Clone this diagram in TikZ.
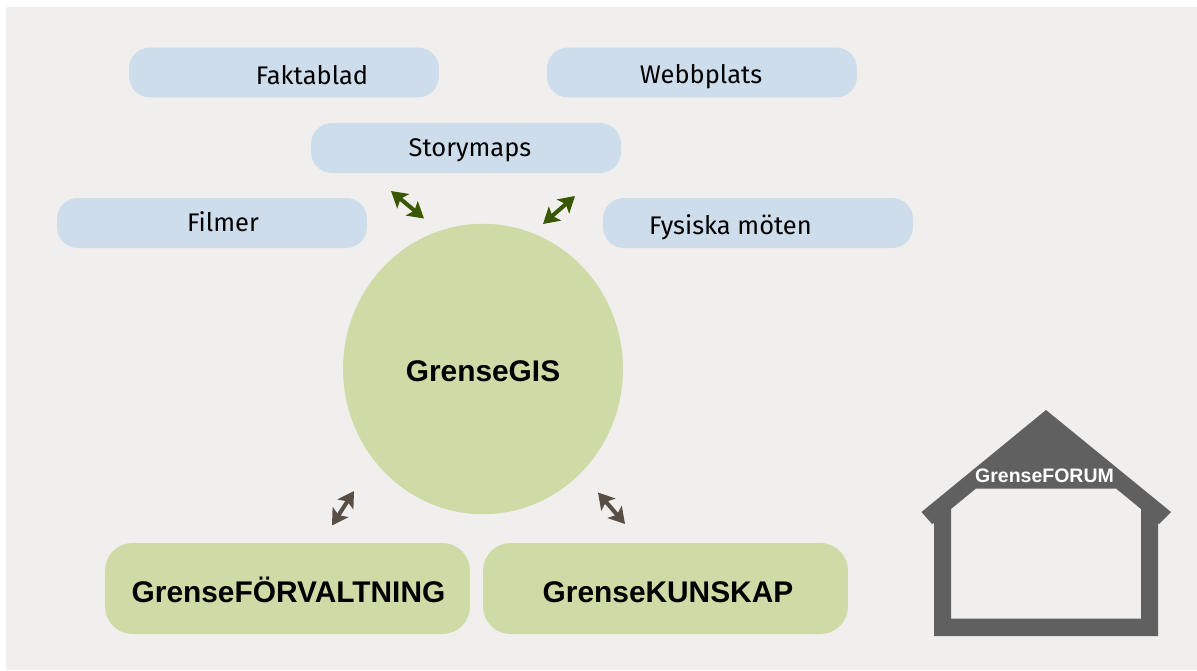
\documentclass[tikz,border=0pt]{standalone}
\usepackage{fontspec}
\setmainfont{Fira Sans}
\newfontfamily\boldfont{Liberation Sans}
\usetikzlibrary{arrows.meta,shapes.geometric}
\definecolor{bgcol}{HTML}{F0EFED}
\definecolor{boxblue}{HTML}{CDDDEB}
\definecolor{boxgreen}{HTML}{CFDBA6}
\definecolor{arrowgreen}{HTML}{385700}
\definecolor{arrowbrown}{HTML}{574F45}
\definecolor{housegrey}{HTML}{606060}
\tikzset{
    mediabox/.style={fill=boxblue, rounded corners=.42cm, minimum width=6.2cm, minimum height=1cm, inner sep=0pt},
    mainbox/.style={fill=boxgreen, rounded corners=.55cm, minimum width=7.3cm, minimum height=1.82cm, inner sep=0pt},
    medialabel/.style={font=\fontsize{14.5}{16}\selectfont, text=black, inner sep=0pt, anchor=base},
    mainlabel/.style={font=\boldfont\bfseries\fontsize{17}{19}\selectfont, text=black, inner sep=0pt, anchor=base},
    linkarrow/.style={{Stealth[length=9pt,width=10.5pt,inset=2pt]}-{Stealth[length=9pt,width=10.5pt,inset=2pt]}, line width=2.3pt},
}
\begin{document}
\begin{tikzpicture}[x=0.02cm,y=-0.02cm]
    \useasboundingbox (0,0) rectangle (1197,670);
    \fill[bgcol] (6,7) rectangle (1197,670);
    % media boxes, the text does not sit in the middle of the box
    \foreach \name/\bx/\by/\tx/\ty/\txt in {fakta/284/72.5/312/84/Faktablad, webb/702/72.5/701/83.5/Webbplats, story/466/148/470/156/Storymaps, film/212/223/223/231/Filmer, moten/758/223/730.5/234/Fysiska möten} {
        \node[mediabox] (\name) at (\bx,\by) {};
        \node[medialabel] (\name label) at (\tx,\ty) {\txt};
    }
    % centre
    \node[ellipse, fill=boxgreen, minimum width=5.6cm, minimum height=5.81cm, inner sep=0pt] (gis) at (483,369) {};
    \node[mainlabel] (gis label) at (483,381) {GrenseGIS};
    \node[mainbox] (forv) at (287.5,588.5) {};
    \node[mainlabel] (forv label) at (288.5,602) {GrenseFÖRVALTNING};
    \node[mainbox] (kunskap) at (665.5,588.5) {};
    \node[mainlabel] (kunskap label) at (668,602) {GrenseKUNSKAP};
    % arrows
    \coordinate (a1) at (391,191);
    \coordinate (a2) at (424,218.5);
    \coordinate (b1) at (575,196);
    \coordinate (b2) at (543,224);
    \coordinate (c1) at (354,491);
    \coordinate (c2) at (332,525.5);
    \coordinate (d1) at (598,492.5);
    \coordinate (d2) at (625,524);
    \draw[linkarrow, arrowgreen] (a1) -- (a2);
    \draw[linkarrow, arrowgreen] (b1) -- (b2);
    \draw[linkarrow, arrowbrown] (c1) -- (c2);
    \draw[linkarrow, arrowbrown] (d1) -- (d2);
    % house
    \fill[housegrey, even odd rule] (1046,410) -- (1171,512) -- (1159,524) -- (1158,523) -- (1158,636) -- (934,636) -- (934,523) -- (932,524) -- (921.5,512) -- cycle
        (976,488.5) -- (1116,488.5) -- (1141,509) -- (1141,618.5) -- (951,618.5) -- (951,509) -- cycle;
    \node[font=\boldfont\bfseries\fontsize{11.1}{13}\selectfont, text=white, inner sep=0pt] (forum) at (1044.5,476) {GrenseFORUM};
\end{tikzpicture}
\end{document}
